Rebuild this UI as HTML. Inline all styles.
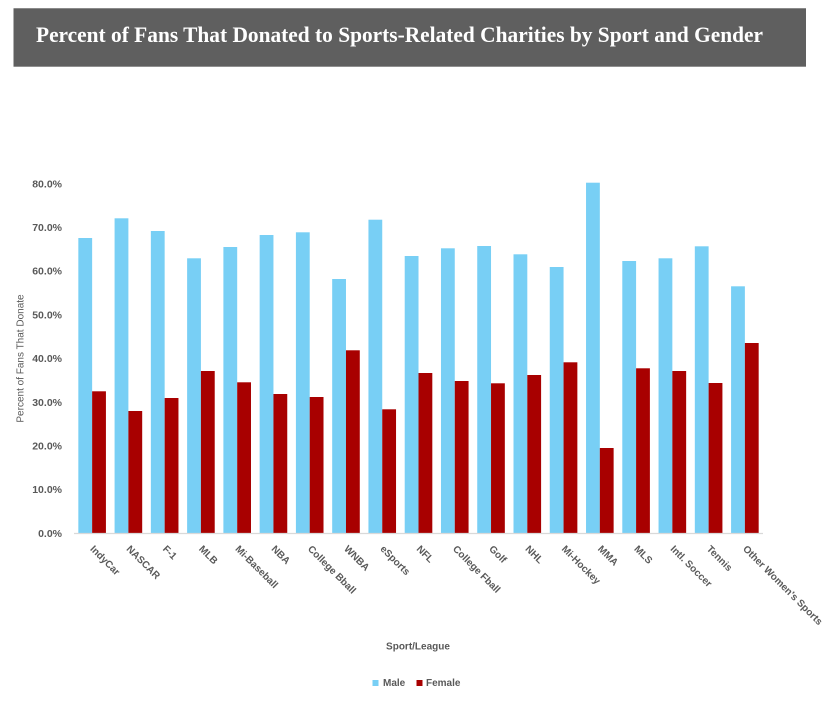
<!DOCTYPE html>
<html>
<head>
<meta charset="utf-8">
<style>
  html,body{margin:0;padding:0;background:#fff;}
  body{width:837px;height:701px;overflow:hidden;}
  svg{display:block;}
  .yl{font-family:"Liberation Sans",sans-serif;font-size:10.5px;font-weight:bold;fill:#595959;}
  .xl{font-family:"Liberation Sans",sans-serif;font-size:10px;font-weight:bold;fill:#595959;}
</style>
</head>
<body>
<svg width="837" height="701" viewBox="0 0 837 701" xmlns="http://www.w3.org/2000/svg">
  <rect x="0" y="0" width="837" height="701" fill="#ffffff"/>
  <!-- Title box -->
  <rect x="13.5" y="8" width="792.5" height="58.7" fill="#5f5f5f"/>
  <line x1="13.5" y1="8.5" x2="806" y2="8.5" stroke="#8a8a8a" stroke-width="1"/>
  <text x="36" y="42" textLength="727" lengthAdjust="spacingAndGlyphs" font-family="'Liberation Serif',serif" font-weight="bold" font-size="22" fill="#ffffff">Percent of Fans That Donated to Sports-Related Charities by Sport and Gender</text>

  <!-- Y tick labels -->
  <g class="yl" text-anchor="end">
    <text x="62" y="187.3">80.0%</text>
    <text x="62" y="231.0">70.0%</text>
    <text x="62" y="274.7">60.0%</text>
    <text x="62" y="318.4">50.0%</text>
    <text x="62" y="362.1">40.0%</text>
    <text x="62" y="405.8">30.0%</text>
    <text x="62" y="449.5">20.0%</text>
    <text x="62" y="493.2">10.0%</text>
    <text x="62" y="536.9">0.0%</text>
  </g>

  <!-- Y axis title -->
  <text transform="translate(23.5,358.5) rotate(-90)" text-anchor="middle" font-family="'Liberation Sans',sans-serif" font-size="10" fill="#595959">Percent of Fans That Donate</text>

  <!-- Bars -->
  <g id="bars"></g>
  <g fill="#78cff5">
    <rect x="78.33" y="238" width="13.8" height="295"/>
    <rect x="114.59" y="218.3" width="13.8" height="314.7"/>
    <rect x="150.86" y="231" width="13.8" height="302"/>
    <rect x="187.12" y="258.3" width="13.8" height="274.7"/>
    <rect x="223.39" y="247" width="13.8" height="286"/>
    <rect x="259.65" y="235" width="13.8" height="298"/>
    <rect x="295.91" y="232.3" width="13.8" height="300.7"/>
    <rect x="332.18" y="279" width="13.8" height="254"/>
    <rect x="368.44" y="219.7" width="13.8" height="313.3"/>
    <rect x="404.71" y="256" width="13.8" height="277"/>
    <rect x="440.97" y="248.3" width="13.8" height="284.7"/>
    <rect x="477.23" y="246" width="13.8" height="287"/>
    <rect x="513.50" y="254.3" width="13.8" height="278.7"/>
    <rect x="549.76" y="267" width="13.8" height="266"/>
    <rect x="586.03" y="182.7" width="13.8" height="350.3"/>
    <rect x="622.29" y="261" width="13.8" height="272"/>
    <rect x="658.55" y="258.3" width="13.8" height="274.7"/>
    <rect x="694.82" y="246.3" width="13.8" height="286.7"/>
    <rect x="731.08" y="286.3" width="13.8" height="246.7"/>
  </g>
  <g fill="#a80000">
    <rect x="92.13" y="391.3" width="13.8" height="141.7"/>
    <rect x="128.39" y="411" width="13.8" height="122"/>
    <rect x="164.66" y="398" width="13.8" height="135"/>
    <rect x="200.92" y="371" width="13.8" height="162"/>
    <rect x="237.19" y="382.3" width="13.8" height="150.7"/>
    <rect x="273.45" y="394" width="13.8" height="139"/>
    <rect x="309.71" y="397" width="13.8" height="136"/>
    <rect x="345.98" y="350.3" width="13.8" height="182.7"/>
    <rect x="382.24" y="409.3" width="13.8" height="123.7"/>
    <rect x="418.51" y="373" width="13.8" height="160"/>
    <rect x="454.77" y="381" width="13.8" height="152"/>
    <rect x="491.03" y="383.3" width="13.8" height="149.7"/>
    <rect x="527.30" y="375" width="13.8" height="158"/>
    <rect x="563.56" y="362.3" width="13.8" height="170.7"/>
    <rect x="599.83" y="448" width="13.8" height="85"/>
    <rect x="636.09" y="368.3" width="13.8" height="164.7"/>
    <rect x="672.35" y="371" width="13.8" height="162"/>
    <rect x="708.62" y="383" width="13.8" height="150"/>
    <rect x="744.88" y="343" width="13.8" height="190"/>
  </g>

  <!-- X axis line -->
  <line x1="74" y1="533.5" x2="763" y2="533.5" stroke="#d9d9d9" stroke-width="1.3"/>

  <!-- X labels -->
  <g class="xl">
    <text transform="translate(89.6,549.5) rotate(45)">IndyCar</text>
    <text transform="translate(125.9,549.5) rotate(45)">NASCAR</text>
    <text transform="translate(162.2,549.5) rotate(45)">F-1</text>
    <text transform="translate(198.4,549.5) rotate(45)">MLB</text>
    <text transform="translate(234.7,549.5) rotate(45)">Mi-Baseball</text>
    <text transform="translate(270.9,549.5) rotate(45)">NBA</text>
    <text transform="translate(307.2,549.5) rotate(45)">College Bball</text>
    <text transform="translate(343.5,549.5) rotate(45)">WNBA</text>
    <text transform="translate(379.7,549.5) rotate(45)">eSports</text>
    <text transform="translate(416.0,549.5) rotate(45)">NFL</text>
    <text transform="translate(452.3,549.5) rotate(45)">College Fball</text>
    <text transform="translate(488.5,549.5) rotate(45)">Golf</text>
    <text transform="translate(524.8,549.5) rotate(45)">NHL</text>
    <text transform="translate(561.1,549.5) rotate(45)">Mi-Hockey</text>
    <text transform="translate(597.3,549.5) rotate(45)">MMA</text>
    <text transform="translate(633.6,549.5) rotate(45)">MLS</text>
    <text transform="translate(669.9,549.5) rotate(45)">Intl. Soccer</text>
    <text transform="translate(706.1,549.5) rotate(45)">Tennis</text>
    <text transform="translate(742.4,549.5) rotate(45)">Other Women's Sports</text>
  </g>

  <!-- X axis title -->
  <text x="418" y="649.5" text-anchor="middle" class="xl">Sport/League</text>

  <!-- Legend -->
  <rect x="372.5" y="680" width="6" height="6" fill="#78cff5"/>
  <text x="383" y="686" class="xl">Male</text>
  <rect x="416.5" y="680" width="6" height="6" fill="#a80000"/>
  <text x="426" y="686" class="xl">Female</text>
</svg>
</body>
</html>
